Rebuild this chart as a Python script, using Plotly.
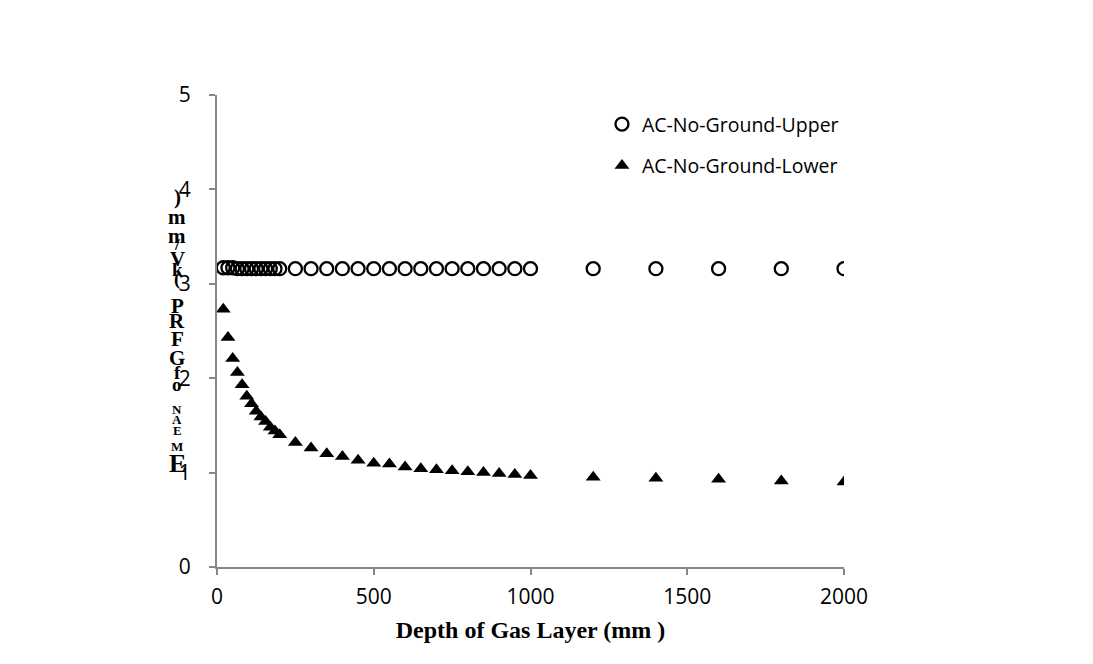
import plotly.graph_objects as go

# depth of gas layer (mm)
depth = [20, 35, 50, 65, 80, 95, 110, 125, 140, 155, 170, 185, 200,
         250, 300, 350, 400, 450, 500, 550, 600, 650, 700, 750, 800,
         850, 900, 950, 1000, 1200, 1400, 1600, 1800, 2000]

upper = [3.17, 3.17, 3.17, 3.16, 3.16, 3.16, 3.16, 3.16, 3.16, 3.16, 3.16, 3.16, 3.16,
         3.16, 3.16, 3.16, 3.16, 3.16, 3.16, 3.16, 3.16, 3.16, 3.16, 3.16, 3.16,
         3.16, 3.16, 3.16, 3.16, 3.16, 3.16, 3.16, 3.16, 3.16]

lower = [2.73, 2.43, 2.21, 2.06, 1.93, 1.81, 1.73, 1.65, 1.59, 1.54, 1.48, 1.44, 1.40,
         1.32, 1.26, 1.20, 1.17, 1.13, 1.10, 1.09, 1.06, 1.04, 1.03, 1.02, 1.01,
         1.00, 0.99, 0.98, 0.97, 0.95, 0.94, 0.93, 0.91, 0.90]

# garbled vertical y title, top to bottom: (char, pixel y, size)
ytitle_chars = [(")", 196, 21), ("m", 216, 21), ("m", 235, 21), ("/", 243, 17),
                ("V", 258, 21), ("k", 268, 19), ("(", 278, 19), ("P", 305, 21),
                ("R", 320, 21), ("F", 338, 21), ("G", 357, 21), ("f", 371, 19),
                ("o", 383, 19), ("N", 408, 13), ("A", 418, 13), ("E", 429, 13),
                ("M", 445, 13), ("E", 462, 26)]

AX = '#868686'
L, R, T, B = 216, 843, 94, 566
W, H = 1093, 664
OFF = 7  # page offset of the plot div

fig = go.Figure()
fig.add_trace(go.Scatter(
    x=depth, y=upper, mode='markers', name='AC-No-Ground-Upper',
    legendgroup='a',
    marker=dict(symbol='circle-open', size=13, color='black', line=dict(width=2.3))
))
fig.add_trace(go.Scatter(
    x=depth, y=lower, mode='markers', name='AC-No-Ground-Lower',
    legendgroup='b',
    marker=dict(symbol='triangle-up', size=13, color='black')
))

for ch, py, sz in ytitle_chars:
    fig.add_annotation(
        x=(176 - L) / (R - L), y=(B - py) / (B - T), xref='paper', yref='paper',
        text='<b>' + ch + '</b>', showarrow=False, xanchor='center', yanchor='middle',
        font=dict(family='Liberation Serif', size=sz, color='black')
    )

fig.update_layout(
    width=W, height=H,
    margin=dict(l=L - OFF, r=W - R + OFF, t=T - OFF, b=H - B + OFF),
    plot_bgcolor='white', paper_bgcolor='white',
    font=dict(family='Open Sans', size=19, color='black'),
    showlegend=True,
    legend=dict(x=0.614, y=0.979, xanchor='left', yanchor='top',
                font=dict(size=19.5), tracegroupgap=13, traceorder='grouped',
                bgcolor='rgba(0,0,0,0)', itemwidth=30),
    xaxis=dict(range=[0, 2000], tickvals=[0, 500, 1000, 1500, 2000],
               showgrid=False, zeroline=False, showline=True, linecolor=AX,
               linewidth=2, ticks='outside', tickcolor=AX, ticklen=6, tickwidth=2,
               ticklabelstandoff=4, tickfont=dict(size=21),
               title=dict(text='<b>Depth of Gas Layer (mm )</b>', standoff=12,
                          font=dict(family='Liberation Serif', size=24))),
    yaxis=dict(range=[0, 5], tickvals=[0, 1, 2, 3, 4, 5],
               showgrid=False, zeroline=False, showline=True, linecolor=AX,
               linewidth=2, ticks='outside', tickcolor=AX, ticklen=6, tickwidth=2,
               ticklabelstandoff=14, tickfont=dict(size=21)),
)

fig.write_html("out.html")
